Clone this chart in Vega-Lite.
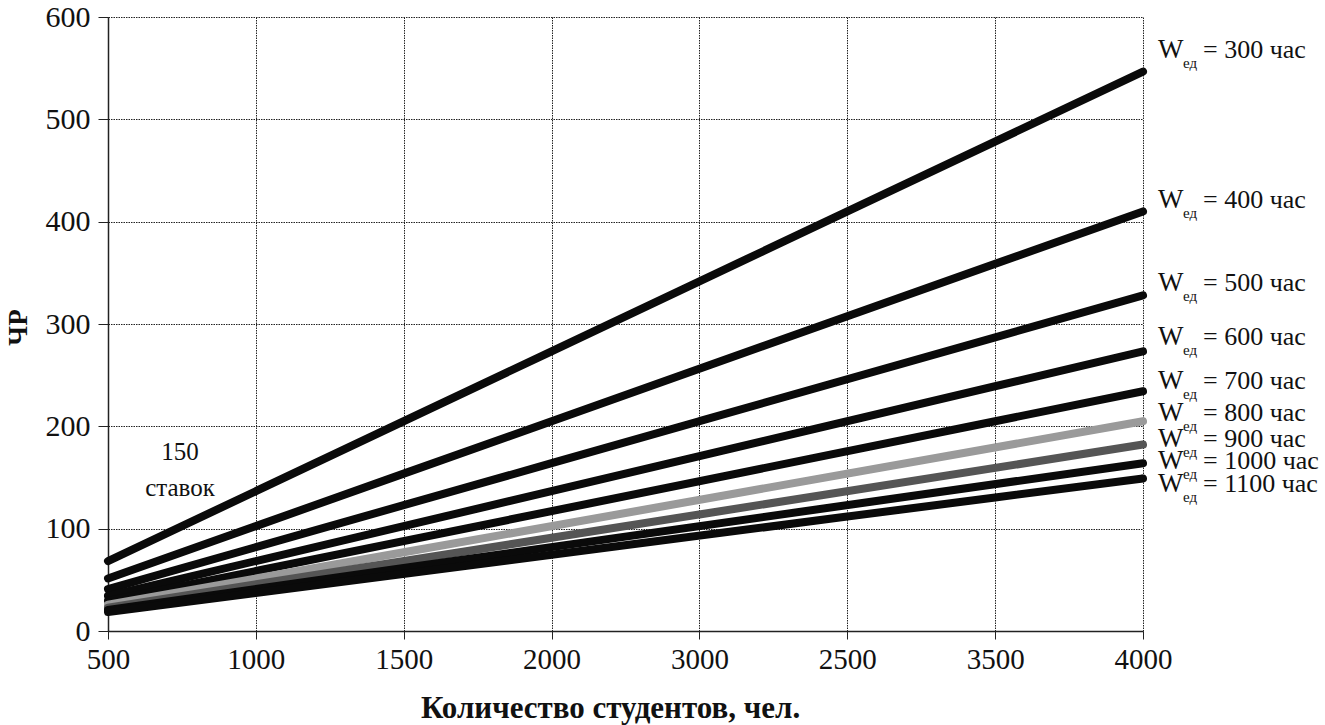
{
  "$schema": "https://vega.github.io/schema/vega-lite/v6.json",
  "width": 1035,
  "height": 614,
  "autosize": {"type": "none"},
  "padding": {"left": 108, "top": 17, "right": 182, "bottom": 94},
  "background": "white",
  "config": {
    "font": "Liberation Serif",
    "text": {"font": "Liberation Serif"},
    "view": {"stroke": null},
    "axis": {"labelFont": "Liberation Serif", "titleFont": "Liberation Serif", "labelColor": "#111", "titleColor": "#111", "domainColor": "#222", "tickColor": "#222", "gridColor": "#222", "gridDash": [1.5, 1], "gridWidth": 1, "gridOpacity": 1}
  },
  "datasets": {
    "lines": [
      {"students": "500", "W": "300", "v": 68.3}, {"students": "1000", "W": "300", "v": 136.7}, {"students": "1500", "W": "300", "v": 205}, {"students": "2000", "W": "300", "v": 273.3}, {"students": "3000", "W": "300", "v": 341.7}, {"students": "2500", "W": "300", "v": 410}, {"students": "3500", "W": "300", "v": 478.3}, {"students": "4000", "W": "300", "v": 546.7},
      {"students": "500", "W": "400", "v": 51.3}, {"students": "1000", "W": "400", "v": 102.5}, {"students": "1500", "W": "400", "v": 153.8}, {"students": "2000", "W": "400", "v": 205}, {"students": "3000", "W": "400", "v": 256.3}, {"students": "2500", "W": "400", "v": 307.5}, {"students": "3500", "W": "400", "v": 358.8}, {"students": "4000", "W": "400", "v": 410},
      {"students": "500", "W": "500", "v": 41}, {"students": "1000", "W": "500", "v": 82}, {"students": "1500", "W": "500", "v": 123}, {"students": "2000", "W": "500", "v": 164}, {"students": "3000", "W": "500", "v": 205}, {"students": "2500", "W": "500", "v": 246}, {"students": "3500", "W": "500", "v": 287}, {"students": "4000", "W": "500", "v": 328},
      {"students": "500", "W": "600", "v": 34.2}, {"students": "1000", "W": "600", "v": 68.3}, {"students": "1500", "W": "600", "v": 102.5}, {"students": "2000", "W": "600", "v": 136.7}, {"students": "3000", "W": "600", "v": 170.8}, {"students": "2500", "W": "600", "v": 205}, {"students": "3500", "W": "600", "v": 239.2}, {"students": "4000", "W": "600", "v": 273.3},
      {"students": "500", "W": "700", "v": 29.3}, {"students": "1000", "W": "700", "v": 58.6}, {"students": "1500", "W": "700", "v": 87.9}, {"students": "2000", "W": "700", "v": 117.1}, {"students": "3000", "W": "700", "v": 146.4}, {"students": "2500", "W": "700", "v": 175.7}, {"students": "3500", "W": "700", "v": 205}, {"students": "4000", "W": "700", "v": 234.3},
      {"students": "500", "W": "800", "v": 25.6}, {"students": "1000", "W": "800", "v": 51.3}, {"students": "1500", "W": "800", "v": 76.9}, {"students": "2000", "W": "800", "v": 102.5}, {"students": "3000", "W": "800", "v": 128.1}, {"students": "2500", "W": "800", "v": 153.8}, {"students": "3500", "W": "800", "v": 179.4}, {"students": "4000", "W": "800", "v": 205},
      {"students": "500", "W": "900", "v": 22.8}, {"students": "1000", "W": "900", "v": 45.6}, {"students": "1500", "W": "900", "v": 68.3}, {"students": "2000", "W": "900", "v": 91.1}, {"students": "3000", "W": "900", "v": 113.9}, {"students": "2500", "W": "900", "v": 136.7}, {"students": "3500", "W": "900", "v": 159.4}, {"students": "4000", "W": "900", "v": 182.2},
      {"students": "500", "W": "1000", "v": 20.5}, {"students": "1000", "W": "1000", "v": 41}, {"students": "1500", "W": "1000", "v": 61.5}, {"students": "2000", "W": "1000", "v": 82}, {"students": "3000", "W": "1000", "v": 102.5}, {"students": "2500", "W": "1000", "v": 123}, {"students": "3500", "W": "1000", "v": 143.5}, {"students": "4000", "W": "1000", "v": 164},
      {"students": "500", "W": "1100", "v": 18.6}, {"students": "1000", "W": "1100", "v": 37.3}, {"students": "1500", "W": "1100", "v": 55.9}, {"students": "2000", "W": "1100", "v": 74.5}, {"students": "3000", "W": "1100", "v": 93.2}, {"students": "2500", "W": "1100", "v": 111.8}, {"students": "3500", "W": "1100", "v": 130.5}, {"students": "4000", "W": "1100", "v": 149.1}
    ],
    "labels": [
      {"students": "4000", "W": "300", "ly": 568, "rest": "= 300 час"},
      {"students": "4000", "W": "400", "ly": 421, "rest": "= 400 час"},
      {"students": "4000", "W": "500", "ly": 340, "rest": "= 500 час"},
      {"students": "4000", "W": "600", "ly": 287, "rest": "= 600 час"},
      {"students": "4000", "W": "700", "ly": 244, "rest": "= 700 час"},
      {"students": "4000", "W": "800", "ly": 213, "rest": "= 800 час"},
      {"students": "4000", "W": "900", "ly": 188, "rest": "= 900 час"},
      {"students": "4000", "W": "1000", "ly": 166, "rest": "= 1000 час"},
      {"students": "4000", "W": "1100", "ly": 144, "rest": "= 1100 час"}
    ],
    "note": [{"students": "500", "ny": 175}]
  },
  "encoding": {
    "x": {
      "field": "students", "type": "ordinal",
      "sort": ["500", "1000", "1500", "2000", "3000", "2500", "3500", "4000"],
      "scale": {"type": "point", "padding": 0},
      "axis": {
        "title": "Количество студентов, чел.", "titleFontSize": 31, "titleFontWeight": "bold",
        "titleX": 502, "titleY": 77, "titleBaseline": "middle", "titleAnchor": null, "titleAlign": "center",
        "labelAngle": 0, "labelFontSize": 29, "labelPadding": 6, "tickSize": 8, "grid": true, "domainWidth": 1.5
      }
    }
  },
  "layer": [
    {
      "data": {"name": "lines"},
      "mark": {"type": "line", "strokeWidth": 8, "strokeCap": "round", "strokeJoin": "round"},
      "encoding": {
        "y": {
          "field": "v", "type": "quantitative",
          "scale": {"domain": [0, 600], "nice": false},
          "axis": {
            "values": [0, 100, 200, 300, 400, 500, 600], "title": "ЧР", "titleFontSize": 27, "titleFontWeight": "bold",
            "titleAngle": -90, "titleX": -90, "titleY": 310, "titleAlign": "center", "titleBaseline": "middle",
            "labelFontSize": 30, "labelPadding": 8, "tickSize": 10, "grid": true, "domainWidth": 1.5
          }
        },
        "detail": {"field": "W"},
        "color": {
          "field": "W", "type": "nominal", "legend": null,
          "scale": {"domain": ["300", "400", "500", "600", "700", "800", "900", "1000", "1100"], "range": ["#0a0a0a", "#0a0a0a", "#0a0a0a", "#0a0a0a", "#0a0a0a", "#9a9a9a", "#555555", "#0a0a0a", "#0a0a0a"]}
        },
        "order": {"field": "students", "type": "ordinal", "sort": "ascending"}
      }
    },
    {
      "data": {"name": "labels"},
      "mark": {"type": "text", "text": "W", "align": "left", "baseline": "middle", "dx": 15, "fontSize": 27, "font": "Liberation Serif", "color": "#111"},
      "encoding": {"y": {"field": "ly", "type": "quantitative"}}
    },
    {
      "data": {"name": "labels"},
      "mark": {"type": "text", "text": "ед", "align": "left", "baseline": "middle", "dx": 40, "dy": 13, "fontSize": 15, "font": "Liberation Serif", "color": "#111"},
      "encoding": {"y": {"field": "ly", "type": "quantitative"}}
    },
    {
      "data": {"name": "labels"},
      "mark": {"type": "text", "align": "left", "baseline": "middle", "dx": 60, "fontSize": 26, "font": "Liberation Serif", "color": "#111"},
      "encoding": {"y": {"field": "ly", "type": "quantitative"}, "text": {"field": "rest"}}
    },
    {
      "data": {"name": "note"},
      "mark": {"type": "text", "text": ["150", "ставок"], "align": "center", "baseline": "middle", "dx": 72, "fontSize": 25, "lineHeight": 36, "font": "Liberation Serif", "color": "#111"},
      "encoding": {"y": {"field": "ny", "type": "quantitative"}}
    }
  ]
}
